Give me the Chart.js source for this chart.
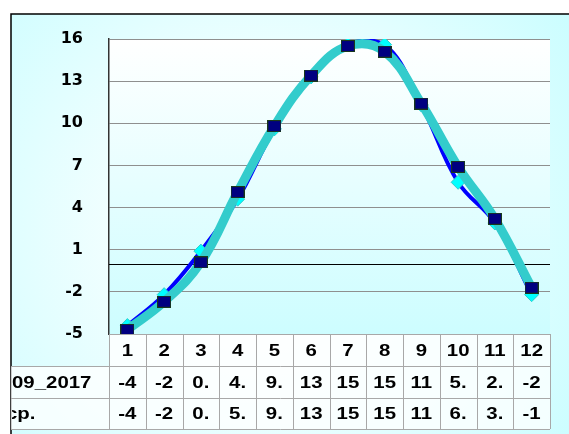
<!DOCTYPE html>
<html>
<head>
<meta charset="utf-8">
<script src="https://cdn.jsdelivr.net/npm/chart.js@4"></script>
<style>
  html, body { margin: 0; padding: 0; background: #fff; }
  #wrap { width: 569px; height: 434px; }
</style>
</head>
<body>
<div id="wrap"><canvas id="chart" width="569" height="434"></canvas></div>
<script>
const months = ["1", "2", "3", "4", "5", "6", "7", "8", "9", "10", "11", "12"];
const yearName = "09_2017";
const avgName = "ср.";
const yearTemps = [-4.4, -2.2, 0.9, 4.6, 9.6, 13.3, 15.6, 15.6, 11.3, 5.8, 2.9, -2.2];
const avgTemps = [-4.7, -2.7, 0.1, 5.1, 9.8, 13.4, 15.5, 15.1, 11.4, 6.9, 3.2, -1.7];
const yTicks = [-5, -2, 1, 4, 7, 10, 13, 16];

// navy square marker
const square = document.createElement("canvas");
square.width = 14;
square.height = 12;
const sq = square.getContext("2d");
sq.fillStyle = "#1a3a1a";
sq.fillRect(0, 0, 14, 12);
sq.fillStyle = "#000080";
sq.fillRect(1, 1, 12, 10);

const backdrop = {
  id: "backdrop",
  beforeDraw(chart) {
    const ctx = chart.ctx;
    const a = chart.chartArea;
    ctx.save();
    // outer frame
    const g = ctx.createRadialGradient(260, 230, 60, 260, 230, 420);
    g.addColorStop(0, "#ffffff");
    g.addColorStop(1, "#c4fdff");
    ctx.fillStyle = g;
    ctx.fillRect(11, 14, chart.width - 11, chart.height - 14);
    ctx.strokeStyle = "#000";
    ctx.lineWidth = 1.5;
    ctx.beginPath();
    ctx.moveTo(11, chart.height);
    ctx.lineTo(11, 14);
    ctx.lineTo(chart.width, 14);
    ctx.stroke();
    // plot area
    const pg = ctx.createLinearGradient(0, a.top, 0, a.bottom);
    pg.addColorStop(0, "#ffffff");
    pg.addColorStop(1, "#cdfdff");
    ctx.fillStyle = pg;
    ctx.fillRect(a.left, a.top, a.right - a.left, a.bottom - a.top);
    ctx.restore();
  },
  beforeDatasetsDraw(chart) {
    const ctx = chart.ctx;
    const a = chart.chartArea;
    const y0 = Math.round(chart.scales.y.getPixelForValue(0)) + 0.5;
    ctx.save();
    ctx.strokeStyle = "#000";
    ctx.lineWidth = 1;
    ctx.beginPath();
    ctx.moveTo(a.left, y0);
    ctx.lineTo(a.right, y0);
    ctx.stroke();
    ctx.restore();
  }
};

// draws text stretched horizontally, like the source picture
function wideText(ctx, t, x, y, align) {
  const sx = 1.2;
  ctx.save();
  ctx.translate(x, y);
  ctx.scale(sx, 1);
  ctx.textAlign = align;
  ctx.fillText(t, 0, 0);
  ctx.restore();
}

const dataTable = {
  id: "dataTable",
  afterDraw(chart) {
    const ctx = chart.ctx;
    const a = chart.chartArea;
    const x = chart.scales.x;
    const w = (a.right - a.left) / months.length;
    const rows = [a.bottom, a.bottom + 32, a.bottom + 64, a.bottom + 95];
    ctx.save();
    ctx.fillStyle = "rgba(255,255,255,0.75)";
    ctx.fillRect(a.left, rows[0], a.right - a.left, rows[3] - rows[0]);
    ctx.fillRect(11, rows[1], a.left - 11, rows[3] - rows[1]);
    ctx.strokeStyle = "#a8a8a8";
    ctx.lineWidth = 1;
    ctx.beginPath();
    for (let i = 0; i <= months.length; i++) {
      const px = Math.round(a.left + i * w) + 0.5;
      ctx.moveTo(px, rows[0]);
      ctx.lineTo(px, rows[3]);
    }
    ctx.moveTo(a.left, rows[0] + 0.5);
    ctx.lineTo(a.right, rows[0] + 0.5);
    for (let r = 1; r < rows.length; r++) {
      ctx.moveTo(11, rows[r] + 0.5);
      ctx.lineTo(a.right, rows[r] + 0.5);
    }
    ctx.stroke();

    ctx.fillStyle = "#000";
    ctx.font = "bold 17px 'Liberation Sans'";
    ctx.textBaseline = "middle";
    const rowText = [months, yearTemps.map(v => String(v).slice(0, 2)), avgTemps.map(v => String(v).slice(0, 2))];
    rowText.forEach((vals, r) => {
      const cy = (rows[r] + rows[r + 1]) / 2 + 1;
      vals.forEach((t, i) => wideText(ctx, t, x.getPixelForValue(i), cy, "center"));
    });
    ctx.beginPath();
    ctx.rect(12, rows[1], a.left - 12, rows[3] - rows[1]);
    ctx.clip();
    wideText(ctx, yearName, 12, (rows[1] + rows[2]) / 2 + 1, "left");
    wideText(ctx, avgName, 6, (rows[2] + rows[3]) / 2 + 1, "left");
    ctx.restore();
  }
};

new Chart(document.getElementById("chart"), {
  type: "line",
  data: {
    labels: months,
    datasets: [
      {
        label: yearName,
        data: yearTemps,
        borderColor: "#0000ff",
        borderWidth: 4,
        tension: 0.4,
        pointStyle: "rectRot",
        pointRadius: 7,
        pointBackgroundColor: "#00ffff",
        pointBorderColor: "#33cccc",
        pointBorderWidth: 1,
        order: 1
      },
      {
        label: avgName,
        data: avgTemps,
        borderColor: "#33cccc",
        borderWidth: 9,
        tension: 0.4,
        pointStyle: square,
        pointRadius: 7,
        order: 0
      }
    ]
  },
  options: {
    responsive: false,
    animation: false,
    layout: { padding: { left: 11, right: 19, top: 39, bottom: 100 } },
    plugins: {
      legend: { display: false },
      tooltip: { enabled: false }
    },
    scales: {
      x: {
        display: false,
        offset: true
      },
      y: {
        min: -5,
        max: 16,
        afterBuildTicks: (scale) => {
          scale.ticks = yTicks.map(v => ({ value: v }));
        },
        afterFit: (scale) => {
          scale.width = 98;
        },
        border: { display: true, color: "#333", width: 1.5 },
        grid: { color: "#8f8f8f", lineWidth: 1, drawTicks: false, tickLength: 0 },
        ticks: {
          color: "#000",
          padding: 26,
          font: { family: "'DejaVu Sans'", weight: "bold", size: 16 }
        }
      }
    }
  },
  plugins: [backdrop, dataTable]
});
</script>
</body>
</html>
